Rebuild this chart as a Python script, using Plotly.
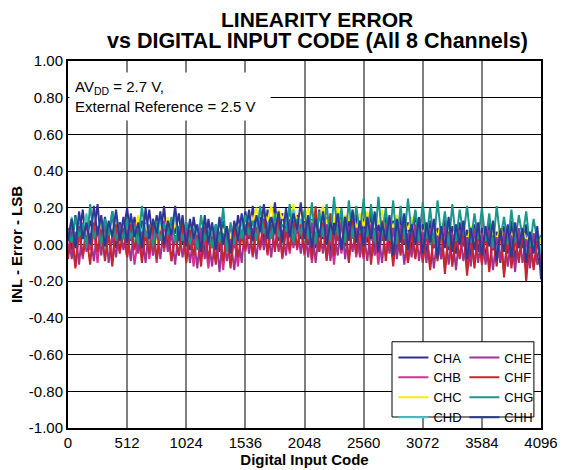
import plotly.graph_objects as go

# digital input codes (every 32 codes)
codes = list(range(0, 4097, 32))

# INL error per channel, LSB
cha = [0.08, -0.03, 0.16, 0.04, 0.19, -0.01, 0.13, 0.06, 0.22, 0.00, 0.15, 0.03, 0.18, -0.02, 0.12, 0.07,
       0.20, 0.02, 0.15, -0.01, 0.13, 0.05, 0.19, 0.01, 0.16, 0.04, 0.21, -0.02, 0.14, 0.06, 0.17, 0.00,
       0.12, -0.03, 0.15, 0.02, 0.09, -0.05, 0.14, 0.00, 0.11, -0.04, 0.13, 0.03, 0.10, -0.02, 0.16, 0.04,
       0.18, 0.03, 0.21, 0.06, 0.15, 0.01, 0.19, 0.05, 0.23, 0.02, 0.17, 0.07, 0.20, 0.04, 0.16, 0.03,
       0.17, 0.00, 0.14, -0.02, 0.19, 0.03, 0.15, -0.04, 0.12, 0.02, 0.18, -0.01, 0.13, 0.04, 0.16, -0.03,
       0.14, 0.01, 0.17, -0.05, 0.11, 0.02, 0.15, -0.03, 0.13, -0.06, 0.16, 0.00, 0.12, -0.04, 0.18, 0.01,
       0.11, -0.06, 0.13, -0.02, 0.09, -0.08, 0.14, -0.03, 0.10, -0.05, 0.12, -0.01, 0.08, -0.07, 0.11, -0.04,
       0.09, -0.08, 0.12, -0.03, 0.07, -0.10, 0.10, -0.05, 0.13, -0.09, 0.08, -0.02, 0.11, -0.11, 0.06, -0.07,
       -0.12]
chb = [-0.05, 0.10, -0.12, 0.06, -0.08, 0.13, -0.03, 0.08, -0.10, 0.11, -0.06, 0.05, -0.09, 0.12, -0.04, 0.07,
       -0.07, 0.09, -0.11, 0.04, -0.05, 0.12, -0.08, 0.06, -0.10, 0.10, -0.04, 0.08, -0.09, 0.05, -0.06, 0.11,
       -0.09, 0.06, -0.12, 0.08, -0.07, 0.04, -0.13, 0.09, -0.08, 0.05, -0.14, 0.07, -0.10, 0.03, -0.12, 0.08,
       -0.04, 0.11, -0.07, 0.09, -0.03, 0.14, -0.06, 0.10, -0.02, 0.12, -0.08, 0.08, -0.05, 0.13, -0.03, 0.10,
       -0.06, 0.09, -0.10, 0.07, -0.04, 0.12, -0.08, 0.06, -0.11, 0.10, -0.05, 0.08, -0.09, 0.11, -0.07, 0.05,
       -0.08, 0.10, -0.05, 0.07, -0.11, 0.09, -0.06, 0.12, -0.09, 0.06, -0.04, 0.08, -0.10, 0.11, -0.07, 0.05,
       -0.09, 0.07, -0.12, 0.05, -0.08, 0.09, -0.13, 0.06, -0.10, 0.04, -0.07, 0.08, -0.14, 0.05, -0.11, 0.07,
       -0.10, 0.06, -0.13, 0.04, -0.09, 0.08, -0.15, 0.05, -0.11, 0.03, -0.08, 0.07, -0.14, 0.04, -0.12, 0.02,
       -0.10]
chc = [0.05, 0.13, 0.02, 0.10, 0.06, 0.15, 0.01, 0.11, 0.04, 0.14, 0.03, 0.09, 0.07, 0.12, 0.02, 0.10,
       0.04, 0.12, 0.06, 0.16, 0.03, 0.11, 0.05, 0.14, 0.02, 0.10, 0.07, 0.15, 0.04, 0.12, 0.06, 0.13,
       0.03, 0.11, 0.05, 0.09, 0.01, 0.12, 0.04, 0.10, 0.02, 0.13, 0.05, 0.08, 0.03, 0.11, 0.06, 0.14,
       0.10, 0.18, 0.12, 0.20, 0.09, 0.17, 0.13, 0.21, 0.11, 0.19, 0.14, 0.18, 0.10, 0.22, 0.12, 0.19,
       0.13, 0.20, 0.09, 0.18, 0.14, 0.21, 0.11, 0.17, 0.12, 0.20, 0.10, 0.16, 0.13, 0.19, 0.08, 0.17,
       0.10, 0.18, 0.07, 0.15, 0.11, 0.19, 0.06, 0.14, 0.09, 0.16, 0.05, 0.13, 0.08, 0.15, 0.04, 0.12,
       0.05, 0.11, 0.02, 0.10, 0.04, 0.12, 0.01, 0.09, 0.03, 0.11, 0.00, 0.08, 0.02, 0.10, -0.01, 0.09,
       0.02, 0.10, -0.01, 0.08, 0.03, 0.09, 0.00, 0.07, 0.01, 0.10, -0.02, 0.08, 0.02, 0.06, 0.00, 0.08,
       0.01]
chd = [0.03, 0.15, -0.02, 0.12, 0.05, 0.17, 0.00, 0.10, 0.06, 0.14, -0.03, 0.11, 0.04, 0.16, 0.01, 0.13,
       0.02, 0.14, -0.01, 0.11, 0.05, 0.18, 0.00, 0.12, 0.03, 0.15, -0.02, 0.10, 0.06, 0.16, 0.01, 0.13,
       -0.01, 0.12, 0.02, 0.09, -0.04, 0.13, 0.01, 0.10, -0.03, 0.14, 0.00, 0.08, -0.02, 0.11, 0.03, 0.12,
       0.04, 0.16, 0.01, 0.13, 0.06, 0.18, 0.02, 0.14, 0.05, 0.17, 0.00, 0.15, 0.03, 0.19, 0.06, 0.14,
       0.02, 0.15, -0.01, 0.12, 0.04, 0.16, 0.00, 0.11, 0.03, 0.17, -0.02, 0.13, 0.05, 0.14, 0.01, 0.12,
       0.00, 0.14, 0.02, 0.16, -0.03, 0.11, 0.03, 0.15, -0.05, 0.12, 0.01, 0.14, -0.02, 0.10, 0.02, 0.13,
       -0.03, 0.11, 0.00, 0.13, -0.05, 0.09, -0.01, 0.12, -0.04, 0.10, 0.01, 0.11, -0.06, 0.08, -0.02, 0.10,
       -0.04, 0.09, 0.00, 0.11, -0.06, 0.07, -0.03, 0.10, -0.05, 0.08, -0.01, 0.09, -0.07, 0.06, -0.03, 0.08,
       -0.06]
che = [0.09, -0.08, 0.07, -0.11, 0.12, -0.04, 0.06, -0.09, 0.10, -0.06, 0.13, -0.10, 0.05, -0.07, 0.11, -0.03,
       0.08, -0.09, 0.12, -0.05, 0.07, -0.10, 0.11, -0.06, 0.09, -0.08, 0.13, -0.04, 0.06, -0.11, 0.10, -0.07,
       0.07, -0.10, 0.05, -0.13, 0.09, -0.08, 0.04, -0.12, 0.08, -0.15, 0.06, -0.09, 0.03, -0.14, 0.07, -0.10,
       0.11, -0.05, 0.09, -0.08, 0.13, -0.03, 0.10, -0.07, 0.12, -0.04, 0.08, -0.06, 0.14, -0.02, 0.10, -0.05,
       0.09, -0.07, 0.12, -0.10, 0.08, -0.05, 0.11, -0.09, 0.07, -0.06, 0.13, -0.08, 0.10, -0.04, 0.09, -0.07,
       0.08, -0.09, 0.11, -0.06, 0.07, -0.10, 0.12, -0.05, 0.09, -0.08, 0.10, -0.11, 0.06, -0.07, 0.11, -0.09,
       0.07, -0.10, 0.09, -0.13, 0.05, -0.08, 0.10, -0.11, 0.06, -0.14, 0.08, -0.09, 0.04, -0.12, 0.09, -0.10,
       0.06, -0.11, 0.08, -0.14, 0.04, -0.09, 0.07, -0.12, 0.05, -0.15, 0.09, -0.10, 0.03, -0.13, 0.06, -0.11,
       -0.08]
chf = [-0.08, 0.07, -0.13, 0.10, -0.06, 0.05, -0.11, 0.12, -0.04, 0.08, -0.09, 0.06, -0.12, 0.11, -0.05, 0.09,
       -0.07, 0.11, -0.03, 0.08, -0.10, 0.06, -0.05, 0.13, -0.08, 0.07, -0.02, 0.10, -0.09, 0.05, -0.06, 0.12,
       -0.10, 0.08, -0.06, 0.05, -0.12, 0.10, -0.08, 0.04, -0.11, 0.07, -0.09, 0.06, -0.13, 0.09, -0.07, 0.05,
       -0.03, 0.12, -0.06, 0.09, -0.02, 0.14, -0.05, 0.11, -0.04, 0.15, -0.07, 0.10, -0.03, 0.13, -0.02, 0.11,
       -0.05, 0.14, -0.08, 0.21, -0.04, 0.12, -0.09, 0.17, -0.06, 0.11, -0.03, 0.15, -0.10, 0.13, -0.05, 0.10,
       -0.07, 0.12, -0.11, 0.09, -0.05, 0.13, -0.09, 0.08, -0.12, 0.10, -0.06, 0.11, -0.10, 0.07, -0.08, 0.12,
       -0.10, 0.08, -0.14, 0.06, -0.09, 0.10, -0.16, 0.07, -0.12, 0.05, -0.08, 0.09, -0.17, 0.06, -0.13, 0.08,
       -0.11, 0.07, -0.15, 0.05, -0.12, 0.09, -0.18, 0.06, -0.13, 0.04, -0.10, 0.08, -0.20, 0.05, -0.14, 0.03,
       -0.12]
chg = [0.08, 0.01, 0.15, 0.04, 0.11, -0.02, 0.22, 0.03, 0.10, 0.00, 0.14, 0.05, 0.18, 0.02, 0.09, 0.03,
       0.14, 0.03, 0.10, 0.00, 0.21, 0.04, 0.09, -0.01, 0.13, 0.02, 0.11, 0.05, 0.15, 0.01, 0.10, 0.02,
       0.12, 0.00, 0.09, -0.03, 0.16, 0.02, 0.08, -0.02, 0.11, 0.01, 0.20, -0.04, 0.12, 0.00, 0.10, 0.03,
       0.16, 0.05, 0.13, 0.02, 0.21, 0.06, 0.12, 0.03, 0.17, 0.04, 0.11, 0.07, 0.22, 0.01, 0.14, 0.05,
       0.19, 0.03, 0.23, 0.00, 0.18, 0.04, 0.22, 0.02, 0.26, 0.05, 0.20, 0.01, 0.24, 0.03, 0.21, 0.06,
       0.25, 0.04, 0.22, 0.01, 0.26, 0.05, 0.20, 0.02, 0.24, 0.00, 0.21, 0.03, 0.25, 0.06, 0.19, 0.02,
       0.23, 0.03, 0.20, 0.00, 0.24, 0.04, 0.18, -0.01, 0.22, 0.02, 0.19, 0.05, 0.21, 0.01, 0.17, 0.03,
       0.20, 0.02, 0.17, -0.02, 0.21, 0.03, 0.15, 0.00, 0.19, 0.01, 0.16, 0.04, 0.18, -0.01, 0.14, 0.02,
       0.05]
chh = [0.02, 0.14, -0.02, 0.18, 0.03, 0.12, 0.00, 0.21, 0.05, 0.16, -0.01, 0.13, 0.04, 0.19, 0.02, 0.15,
       0.01, 0.17, 0.04, 0.12, -0.02, 0.20, 0.03, 0.14, 0.06, 0.18, 0.00, 0.13, 0.05, 0.21, 0.02, 0.16,
       -0.01, 0.14, 0.03, 0.11, -0.04, 0.16, 0.01, 0.12, -0.03, 0.15, 0.00, 0.10, -0.05, 0.13, 0.02, 0.17,
       0.05, 0.19, 0.02, 0.16, 0.07, 0.22, 0.03, 0.15, 0.06, 0.18, 0.01, 0.20, 0.04, 0.17, 0.08, 0.23,
       0.03, 0.16, -0.02, 0.14, 0.04, 0.18, 0.00, 0.12, 0.05, 0.17, -0.03, 0.15, 0.02, 0.19, 0.01, 0.13,
       -0.01, 0.15, 0.03, 0.18, -0.04, 0.12, 0.02, 0.16, -0.06, 0.14, 0.01, 0.17, -0.03, 0.11, 0.00, 0.15,
       -0.05, 0.12, 0.01, 0.14, -0.07, 0.10, -0.02, 0.15, -0.04, 0.11, 0.00, 0.13, -0.08, 0.09, -0.03, 0.12,
       -0.06, 0.10, -0.01, 0.13, -0.09, 0.08, -0.04, 0.11, -0.07, 0.12, -0.02, 0.09, -0.10, 0.07, -0.05, 0.10,
       -0.19]

names = ["CHA", "CHB", "CHC", "CHD", "CHE", "CHF", "CHG", "CHH"]
series = [cha, chb, chc, chd, che, chf, chg, chh]
colors = ["#2E3192", "#D6308F", "#FFEA00", "#3EC6C8", "#A03296", "#C1272D", "#1A968C", "#2B3A96"]

y_ticks = [-1.0, -0.8, -0.6, -0.4, -0.2, 0.0, 0.2, 0.4, 0.6, 0.8, 1.0]
y_labels = ["-1.00", "-0.80", "-0.60", "-0.40", "-0.20", "0.00", "0.20", "0.40", "0.60", "0.80", "1.00"]
x_ticks = [0, 512, 1024, 1536, 2048, 2560, 3072, 3584, 4096]

font = "Liberation Sans, Arial, sans-serif"

fig = go.Figure()
for i, (name, vals, col) in enumerate(zip(names, series, colors)):
    fig.add_trace(go.Scatter(
        x=codes, y=vals, mode="lines", name=name,
        line=dict(color=col, width=2),
        legend="legend" if i < 4 else "legend2",
    ))

# box round both legend columns
fig.add_shape(type="rect", xref="paper", yref="paper", x0=0.685, x1=0.985, y0=0.03, y1=0.235,
              line=dict(color="black", width=1), fillcolor="white", layer="above")

# title, two lines set tighter than plotly's default line spacing
fig.add_annotation(text="<b>LINEARITY ERROR</b>", xref="paper", yref="paper",
                   x=0.527, y=1.112, xanchor="center", yanchor="middle", showarrow=False,
                   font=dict(size=21, color="black"))
fig.add_annotation(text="<b>vs DIGITAL INPUT CODE (All 8 Channels)</b>", xref="paper", yref="paper",
                   x=0.527, y=1.055, xanchor="center", yanchor="middle", showarrow=False,
                   font=dict(size=21.5, color="black"))

fig.add_annotation(
    text="AV<sub>DD</sub> = 2.7 V,<br>External Reference = 2.5 V",
    xref="paper", yref="paper", x=0.003, y=0.97, xanchor="left", yanchor="top",
    align="left", showarrow=False, bgcolor="white", borderpad=5,
    width=190, font=dict(size=15, color="black"),
)

leg = dict(font=dict(size=13, color="black"), bgcolor="rgba(0,0,0,0)", borderwidth=0,
           yanchor="top", y=0.233, xanchor="left", tracegroupgap=0)

# the page body adds an 8 px offset, so margins are 8 px smaller on top/left
fig.update_layout(
    width=571, height=470,
    margin=dict(l=60, r=38, t=53, b=50),
    paper_bgcolor="white", plot_bgcolor="white",
    font=dict(family=font, size=15, color="black"),
    legend=dict(leg, x=0.688),
    legend2=dict(leg, x=0.838),
    xaxis=dict(range=[0, 4096], tickvals=x_ticks, ticks="", showgrid=True, automargin=False,
               gridcolor="#7f7f7f", gridwidth=1.5, showline=True, mirror=True,
               linecolor="black", linewidth=2, zeroline=False,
               title=dict(text="<b>Digital Input Code</b>", standoff=0, font=dict(size=15))),
    yaxis=dict(range=[-1, 1], tickvals=y_ticks, ticktext=y_labels, ticks="", showgrid=True,
               automargin=False, gridcolor="black", gridwidth=1, showline=True, mirror=True,
               linecolor="black", linewidth=2, zeroline=False,
               title=dict(text="<b>INL - Error - LSB</b>", standoff=8, font=dict(size=15))),
)

fig.write_html("out.html")
